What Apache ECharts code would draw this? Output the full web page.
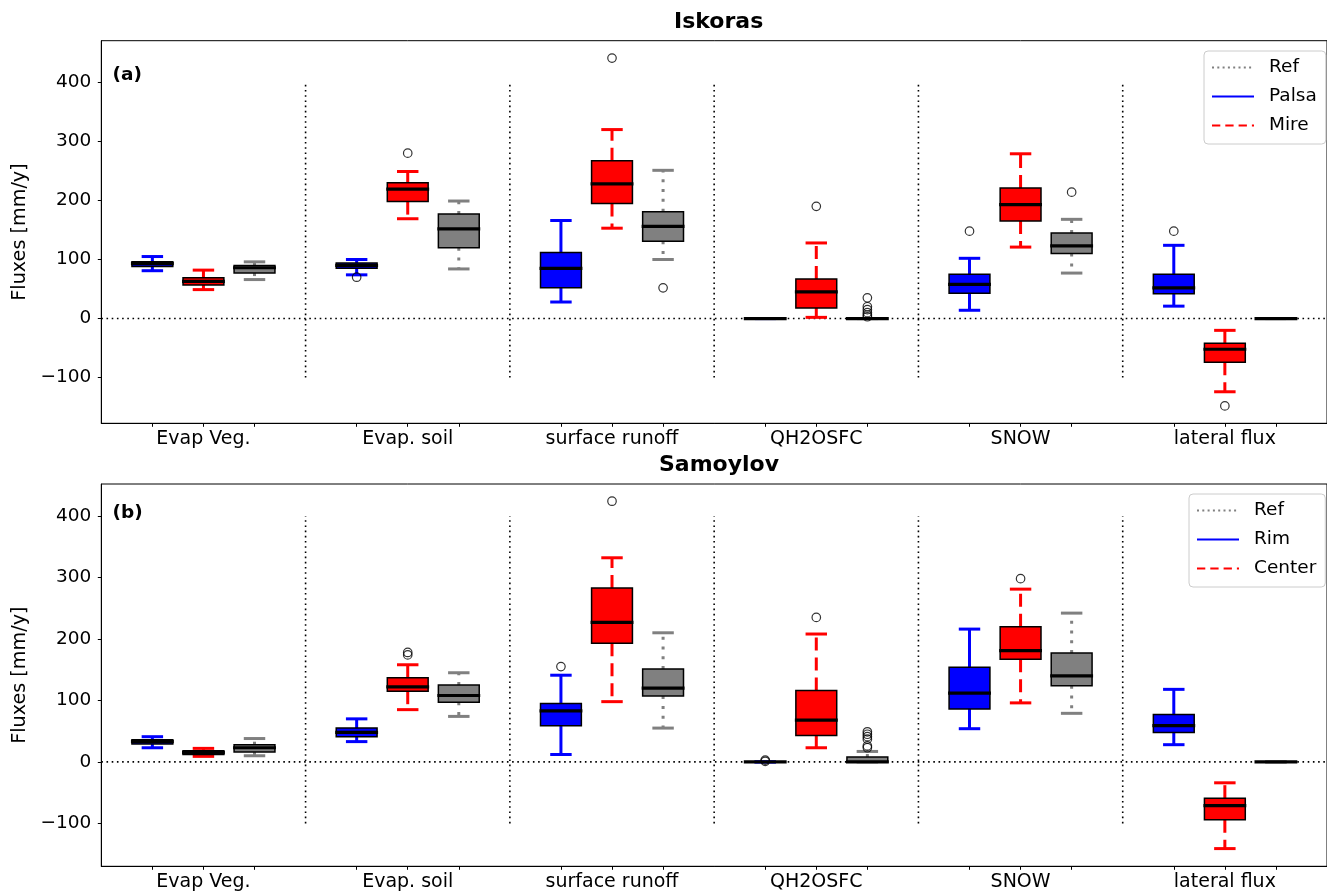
<!DOCTYPE html>
<html><head><meta charset="utf-8">
<script src="https://cdn.jsdelivr.net/npm/echarts@6/dist/echarts.min.js"></script>
<style>html,body{margin:0;padding:0;background:#fff}#c{width:1327px;height:895px}</style>
</head><body><div id="c"></div>
<script>
// ---------- DATA ----------
const categories = ['Evap Veg.', 'Evap. soil', 'surface runoff', 'QH2OSFC', 'SNOW', 'lateral flux'];
const yTicks = [-100, 0, 100, 200, 300, 400];
// box stats per category: [lower whisker, Q1, median, Q3, upper whisker]
const iskorasPalsa = [[81, 88, 93, 96, 105], [74, 85, 90, 94, 100], [28, 52, 85, 112, 166], [0, 0, 0, 0, 0], [14, 43, 58, 75, 102], [21, 42, 52, 75, 124]];
const iskorasMire  = [[49, 57, 63, 69, 82], [169, 198, 219, 230, 249], [153, 195, 228, 267, 320], [2, 18, 45, 67, 128], [121, 165, 193, 221, 279], [-124, -74, -52, -42, -20]];
const iskorasRef   = [[66, 77, 86, 90, 96], [84, 120, 152, 177, 199], [100, 131, 156, 181, 251], [0, 0, 0, 0, 0], [77, 110, 123, 145, 168], [0, 0, 0, 0, 0]];
const iskorasPalsaOut = [[], [70], [], [], [148], [148]];
const iskorasMireOut  = [[], [280], [441], [190], [], [-148]];
const iskorasRefOut   = [[], [], [52], [35, 20, 15, 10, 6, 3], [214], []];

const samoylovRim    = [[23, 29, 33, 36, 41], [33, 41, 48, 55, 70], [12, 59, 83, 95, 141], [0, 0, 0, 0, 0], [54, 86, 112, 154, 216], [28, 48, 59, 77, 118]];
const samoylovCenter = [[9, 12, 15, 18, 22], [85, 115, 122, 137, 158], [98, 193, 227, 283, 332], [23, 43, 68, 116, 208], [96, 167, 181, 220, 281], [-141, -94, -71, -59, -34]];
const samoylovRef    = [[10, 16, 23, 28, 38], [74, 97, 108, 125, 145], [55, 107, 120, 151, 210], [0, 0, 0, 8, 17], [79, 124, 140, 177, 242], [0, 0, 0, 0, 0]];
const samoylovRimOut    = [[], [], [155], [3, 1], [], []];
const samoylovCenterOut = [[], [174, 178], [424], [235], [298], []];
const samoylovRefOut    = [[], [], [], [49, 45, 41, 37, 26, 23], [], []];

const separatorRange = [-100, 400];
const zeroLevel = 0;

// ---------- BUILD ----------
const FONT = 'DejaVu Sans';
const FS = 18.5;
const boxPositions = [];
categories.forEach((c, g) => { for (let s = 0; s < 3; s++) boxPositions.push(g * 4 + s); });
const labelPositions = categories.map((c, g) => g * 4 + 1);
const separators = categories.slice(1).map((c, g) => g * 4 + 3);

const styles = [
  { color: '#0000ff', dash: null },
  { color: '#ff0000', dash: [13, 7] },
  { color: '#808080', dash: [3, 6.8] }
];

function boxData(stats, slot) {
  return stats.map((s, g) => [g * 4 + slot].concat(s));
}
function outData(outs, slot) {
  const r = [];
  outs.forEach((arr, g) => arr.forEach(v => r.push([g * 4 + slot, v])));
  return r;
}

function boxRenderer(st) {
  return function (params, api) {
    const x = api.value(0);
    const lo = api.coord([x, api.value(1)]);
    const q1 = api.coord([x, api.value(2)]);
    const md = api.coord([x, api.value(3)]);
    const q3 = api.coord([x, api.value(4)]);
    const hi = api.coord([x, api.value(5)]);
    const unit = api.size([1, 0])[0];
    const bw = unit * 0.8 / 2, cw = unit * 0.42 / 2;
    const cx = lo[0];
    const wStyle = { stroke: st.color, lineWidth: 3, lineDash: st.dash };
    const cStyle = { stroke: st.color, lineWidth: 3 };
    return {
      type: 'group',
      children: [
        { type: 'line', shape: { x1: cx, y1: q1[1], x2: cx, y2: lo[1] }, style: wStyle },
        { type: 'line', shape: { x1: cx, y1: q3[1], x2: cx, y2: hi[1] }, style: wStyle },
        { type: 'line', shape: { x1: cx - cw, y1: lo[1], x2: cx + cw, y2: lo[1] }, style: cStyle },
        { type: 'line', shape: { x1: cx - cw, y1: hi[1], x2: cx + cw, y2: hi[1] }, style: cStyle },
        { type: 'rect', shape: { x: cx - bw, y: q3[1], width: 2 * bw, height: q1[1] - q3[1] },
          style: { fill: st.color, stroke: '#000', lineWidth: 1.5 } },
        { type: 'line', shape: { x1: cx - bw - 1, y1: md[1], x2: cx + bw + 1, y2: md[1] },
          style: { stroke: '#000', lineWidth: 3.2 } }
      ]
    };
  };
}

function panelSeries(gi, sets, outs) {
  const res = [];
  res.push({
    type: 'custom', xAxisIndex: gi, yAxisIndex: gi, z: 1, silent: true,
    data: separators.map(s => [s, separatorRange[0], separatorRange[1]]),
    encode: { x: 0, y: [1, 2] },
    renderItem: function (params, api) {
      const a = api.coord([api.value(0), api.value(1)]);
      const b = api.coord([api.value(0), api.value(2)]);
      return { type: 'line', shape: { x1: a[0], y1: a[1], x2: b[0], y2: b[1] },
        style: { stroke: '#000', lineWidth: 1.6, lineDash: [1.6, 3.6] } };
    }
  });
  res.push({
    type: 'custom', xAxisIndex: gi, yAxisIndex: gi, z: 1, silent: true,
    data: [[0, zeroLevel]],
    encode: { x: 0, y: 1 },
    renderItem: function (params, api) {
      const p = api.coord([0, api.value(1)]);
      const cs = params.coordSys;
      return { type: 'line', shape: { x1: cs.x, y1: p[1], x2: cs.x + cs.width, y2: p[1] },
        style: { stroke: '#000', lineWidth: 1.6, lineDash: [1.6, 3.6] } };
    }
  });
  sets.forEach((stats, slot) => {
    res.push({
      type: 'custom', xAxisIndex: gi, yAxisIndex: gi, z: 3, silent: true,
      data: boxData(stats, slot),
      encode: { x: 0, y: [1, 2, 3, 4, 5] },
      renderItem: boxRenderer(styles[slot])
    });
    res.push({
      type: 'scatter', xAxisIndex: gi, yAxisIndex: gi, z: 4, silent: true,
      data: outData(outs[slot], slot),
      symbol: 'circle', symbolSize: 8.5,
      itemStyle: { color: 'rgba(0,0,0,0)', borderColor: '#000', borderWidth: 1.2 }
    });
  });
  return res;
}

const legendSeries = [
  { name: 'Ref', color: '#808080', type: [2, 3.3] },
  { name: 'Palsa', color: '#0000ff', type: 'solid' },
  { name: 'Mire', color: '#ff0000', type: [8.3, 5] },
  { name: 'Rim', color: '#0000ff', type: 'solid' },
  { name: 'Center', color: '#ff0000', type: [8.3, 5] }
].map(d => ({
  type: 'line', name: d.name, data: [], xAxisIndex: 0, yAxisIndex: 0,
  symbol: 'none', showSymbol: false,
  itemStyle: { color: d.color, opacity: 0 },
  lineStyle: { color: d.color, width: 2, type: d.type }
}));

function makeXAxis(gi) {
  return {
    type: 'value', gridIndex: gi, min: -1, max: 23,
    axisLine: { show: true, onZero: false, lineStyle: { color: '#000', width: 1 } },
    axisTick: { show: true, customValues: boxPositions, length: 3.5, lineStyle: { color: '#000', width: 1 } },
    axisLabel: { show: true, customValues: labelPositions, margin: 6,
      formatter: v => categories[Math.round((v - 1) / 4)],
      fontFamily: FONT, fontSize: 19, color: '#000' },
    splitLine: { show: false }
  };
}
function makeYAxis(gi, min, max) {
  return {
    type: 'value', gridIndex: gi, min: min, max: max,
    name: 'Fluxes [mm/y]', nameLocation: 'middle', nameGap: 66,
    nameTextStyle: { fontFamily: FONT, fontSize: 19.2, color: '#000' },
    axisLine: { show: true, onZero: false, lineStyle: { color: '#000', width: 1 } },
    axisTick: { show: true, customValues: yTicks, length: 3.5, lineStyle: { color: '#000', width: 1 } },
    axisLabel: { show: true, customValues: yTicks, margin: 10,
      formatter: v => (v < 0 ? '\u2212' + Math.abs(v) : String(v)),
      fontFamily: FONT, fontSize: FS, color: '#000' },
    splitLine: { show: false }
  };
}

function legendCfg(names, left, top) {
  return {
    orient: 'vertical', left: left, top: top, data: names,
    itemWidth: 42, itemHeight: 14, itemGap: 10,
    padding: [7, 9, 9, 7],
    backgroundColor: 'rgba(255,255,255,0.8)', borderColor: '#cccccc', borderWidth: 1, borderRadius: 4,
    textStyle: { fontFamily: FONT, fontSize: FS, color: '#000', padding: [0, 0, 0, 10] },
    selectedMode: false
  };
}

const option = {
  animation: false,
  backgroundColor: '#fff',
  title: [
    { text: 'Iskoras', left: 674, top: 11, textStyle: { fontFamily: FONT, fontSize: 22, fontWeight: 'bold', color: '#000' }, padding: 0 },
    { text: 'Samoylov', left: 659, top: 454, textStyle: { fontFamily: FONT, fontSize: 22, fontWeight: 'bold', color: '#000' }, padding: 0 },
    { text: '(a)', left: 112.5, top: 66, textStyle: { fontFamily: FONT, fontSize: FS, fontWeight: 'bold', color: '#000' }, padding: 0 },
    { text: '(b)', left: 112.5, top: 504, textStyle: { fontFamily: FONT, fontSize: FS, fontWeight: 'bold', color: '#000' }, padding: 0 }
  ],
  legend: [
    legendCfg(['Ref', 'Palsa', 'Mire'], 1204, 51),
    legendCfg(['Ref', 'Rim', 'Center'], 1189, 494)
  ],
  grid: [
    { left: 101.3, top: 40.7, width: 1234.8, height: 382.6, show: true, borderColor: '#000', borderWidth: 1, backgroundColor: 'transparent' },
    { left: 101.3, top: 484, width: 1234.8, height: 382.3, show: true, borderColor: '#000', borderWidth: 1, backgroundColor: 'transparent' }
  ],
  xAxis: [makeXAxis(0), makeXAxis(1)],
  yAxis: [makeYAxis(0, -177.4, 470.5), makeYAxis(1, -169.8, 452)],
  series: []
    .concat(panelSeries(0, [iskorasPalsa, iskorasMire, iskorasRef], [iskorasPalsaOut, iskorasMireOut, iskorasRefOut]))
    .concat(panelSeries(1, [samoylovRim, samoylovCenter, samoylovRef], [samoylovRimOut, samoylovCenterOut, samoylovRefOut]))
    .concat(legendSeries)
};

const chart = echarts.init(document.getElementById('c'), null, { renderer: 'canvas' });
chart.setOption(option);
</script>
</body></html>
